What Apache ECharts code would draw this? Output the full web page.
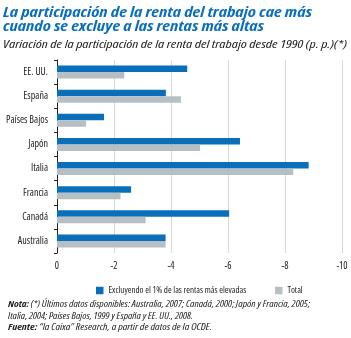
<!DOCTYPE html>
<html><head><meta charset="utf-8">
<script src="https://cdn.jsdelivr.net/npm/echarts@6/dist/echarts.min.js"></script>
<style>html,body{margin:0;padding:0;background:#fff}#c{width:351px;height:338px}</style>
</head><body><div id="c"></div>
<script>
const categories = ["EE. UU.", "España", "Países Bajos", "Japón", "Italia", "Francia", "Canadá", "Australia"];
const excl1 = [-4.57, -3.82, -1.65, -6.42, -8.83, -2.6, -6.04, -3.81];
const total = [-2.36, -4.35, -1.02, -5.02, -8.29, -2.23, -3.11, -3.81];
const seriesNames = ["Excluyendo el 1% de las rentas más elevadas", "Total"];
const xTicks = [0, -2, -4, -6, -8, -10];
const titleLines = ["La participación de la renta del trabajo cae más", "cuando se excluye a las rentas más altas"];
const subtitle = "Variación de la participación de la renta del trabajo desde 1990 (p. p.)(*)";
const notes = [
  ["Nota:", " (*) Últimos datos disponibles: Australia, 2007; Canadá, 2000; Japón y Francia, 2005;"],
  ["", "Italia, 2004; Países Bajos, 1999 y España y EE. UU., 2008."],
  ["Fuente:", " \u201cla Caixa\u201d Research, a partir de datos de la OCDE."]
];

const BLUE = '#0a6fba', GRAY = '#b6c0c4', INK = '#222';
const ctx = document.createElement('canvas').getContext('2d');
function mw(text, size, fam, weight, style) {
  ctx.font = `${style || 'normal'} ${weight || 'normal'} ${size}px ${fam}`;
  return ctx.measureText(text).width;
}
const probe = 'Países Bajos';
const mono = mw(probe, 20, 'monospace');
const candidates = [
  {fam: "Roboto", w: 'normal'},
  {fam: "'Liberation Sans Narrow'", w: 'normal'},
  {fam: "'DejaVu Sans Condensed'", w: 'normal'},
  {fam: "'Noto Sans'", w: 'normal condensed'},
  {fam: "'Open Sans'", w: 'normal condensed'},
  {fam: "'Noto Sans'", w: 'normal semi-condensed'}
];
let best = candidates[0], bestW = mw(probe, 20, 'Roboto');
candidates.forEach(c => {
  ctx.font = '20px monospace';
  ctx.font = `normal ${c.w} 20px ${c.fam}, monospace`;
  const w = ctx.measureText(probe).width;
  if (Math.abs(w - mono) > 0.5 && w < bestW - 0.5) { best = c; bestW = w; }
});
const NARROW = best.fam, NW = best.w;
const STRETCH = NW.split(' ')[1] || 'normal';
const BOLDN = 'bold ' + STRETCH;

function fitText(text, x, baseY, size, targetW, opts) {
  const w = mw(text, size, NARROW, opts.weight, opts.style);
  return {type: 'text', x: x, y: baseY - 0.35 * size, scaleX: targetW / w, silent: true,
    style: {text: text, fontSize: size, fontFamily: NARROW, fontWeight: opts.weight, fontStyle: opts.style || 'normal',
      fill: opts.color || INK, verticalAlign: 'middle', align: 'left'}};
}
function noteLine(parts, x, baseY, size, targetW) {
  const w = mw(parts[0], size, NARROW, BOLDN, 'italic') + mw(parts[1], size, NARROW, NW, 'italic');
  const txt = (parts[0] ? '{b|' + parts[0] + '}' : '') + '{n|' + parts[1] + '}';
  return {type: 'text', x: x, y: baseY - 0.35 * size, scaleX: targetW / w, silent: true,
    style: {text: txt, fontSize: size, fontFamily: NARROW, fill: INK, verticalAlign: 'middle', align: 'left',
      rich: {b: {fontWeight: BOLDN, fontStyle: 'italic', fontSize: size, fontFamily: NARROW, fill: INK, color: INK},
             n: {fontWeight: NW, fontStyle: 'italic', fontSize: size, fontFamily: NARROW, fill: INK, color: INK}}}};
}

const graphics = [
  fitText(titleLines[0], 3, 18.3, 13.8, 309, {weight: BOLDN, style: 'italic', color: BLUE}),
  fitText(titleLines[1], 3, 31.7, 13.8, 261, {weight: BOLDN, style: 'italic', color: BLUE}),
  fitText(subtitle, 3, 48.7, 11.5, 344, {weight: NW, style: 'italic'}),
  noteLine(notes[0], 8, 307.8, 8.5, 302),
  noteLine(notes[1], 8, 319.2, 8.5, 185),
  noteLine(notes[2], 8, 330.6, 8.5, 204)
];

const yLabSize = Math.max(8.5, Math.min(10, 10 * 45 / mw('Países Bajos', 10, NARROW, NW)));
const legSize = Math.max(8, Math.min(9, 9 * 154 / mw(seriesNames[0], 9, NARROW, NW)));
const legW0 = mw(seriesNames[0], legSize, NARROW, NW);
const yMargin = Math.max(5, Math.min(9, 52 - mw('Países Bajos', yLabSize, NARROW, NW)));

const chart = echarts.init(document.getElementById('c'), null, {renderer: 'canvas'});
chart.setOption({
  animation: false,
  graphic: graphics,
  legend: {
    data: seriesNames, left: 91, top: 281, itemWidth: 7.5, itemHeight: 7.5,
    itemGap: Math.max(4, 270 - (98.5 + 5 + legW0)), icon: 'rect', width: 300,
    textStyle: {fontSize: legSize, color: INK, fontFamily: NARROW, fontWeight: NW}
  },
  grid: {left: 57, right: 9, top: 60, height: 193, outerBoundsMode: 'none', containLabel: false},
  xAxis: {
    type: 'value', min: -10, max: 0, interval: 2, inverse: true,
    axisLine: {show: false}, axisTick: {show: false},
    splitLine: {lineStyle: {color: '#d8d8d8', width: 1}},
    axisLabel: {color: INK, fontSize: 10, margin: 8, fontFamily: NARROW, fontWeight: NW,
      formatter: v => xTicks.includes(v) ? String(v) : ''}
  },
  yAxis: {
    type: 'category', data: categories, inverse: true,
    axisLine: {show: true, lineStyle: {color: INK, width: 1}},
    axisTick: {show: true, inside: false, length: 3, lineStyle: {color: INK}},
    axisLabel: {color: INK, fontSize: yLabSize, margin: yMargin, fontFamily: NARROW, fontWeight: NW}
  },
  series: [
    {name: seriesNames[0], type: 'bar', data: excl1, barWidth: 6.5, barGap: '0%', itemStyle: {color: BLUE}},
    {name: seriesNames[1], type: 'bar', data: total, barWidth: 6.5, barGap: '0%', itemStyle: {color: GRAY}}
  ]
});
</script></body></html>
